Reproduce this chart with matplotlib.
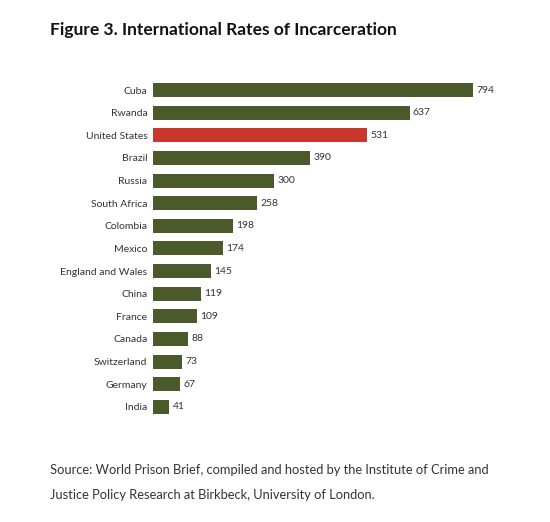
import matplotlib
matplotlib.use("Agg")
import matplotlib.pyplot as plt

# data
countries = ["Cuba", "Rwanda", "United States", "Brazil", "Russia", "South Africa",
             "Colombia", "Mexico", "England and Wales", "China", "France", "Canada",
             "Switzerland", "Germany", "India"]
rates = [794, 637, 531, 390, 300, 258, 198, 174, 145, 119, 109, 88, 73, 67, 41]
highlight = "United States"

GREEN = "#4b5a2b"
RED = "#c9372c"

plt.rcParams["font.family"] = ["Lato", "DejaVu Sans"]

fig = plt.figure(figsize=(5.5, 5.22), dpi=100)
ax = fig.add_axes([0.278, 0.199, 0.582, 0.650])

ypos = list(range(len(countries)))
colors = [RED if c == highlight else GREEN for c in countries]
ax.barh(ypos, rates, height=0.62, color=colors)
for y, v in zip(ypos, rates):
    ax.text(v + 8, y, str(v), va="center", ha="left", fontsize=7.5, color="#333333")

ax.set_yticks(ypos)
ax.set_yticklabels(countries, fontsize=7.5, color="#333333")
ax.tick_params(axis="y", length=0, pad=4)
ax.set_xticks([])
ax.set_xlim(0, 794)
ax.set_ylim(len(countries) - 0.5, -0.5)
for s in ax.spines.values():
    s.set_visible(False)

fig.text(50 / 550, 1 - 30 / 522, "Figure 3. International Rates of Incarceration",
         fontsize=12.5, fontweight="bold", va="center", ha="left", color="#111111")
fig.text(50 / 550, 1 - 470 / 522,
         "Source: World Prison Brief, compiled and hosted by the Institute of Crime and",
         fontsize=9.3, va="center", ha="left", color="#333333")
fig.text(50 / 550, 1 - 495 / 522,
         "Justice Policy Research at Birkbeck, University of London.",
         fontsize=9.3, va="center", ha="left", color="#333333")

fig.savefig("out.png", dpi=100, facecolor="white")
